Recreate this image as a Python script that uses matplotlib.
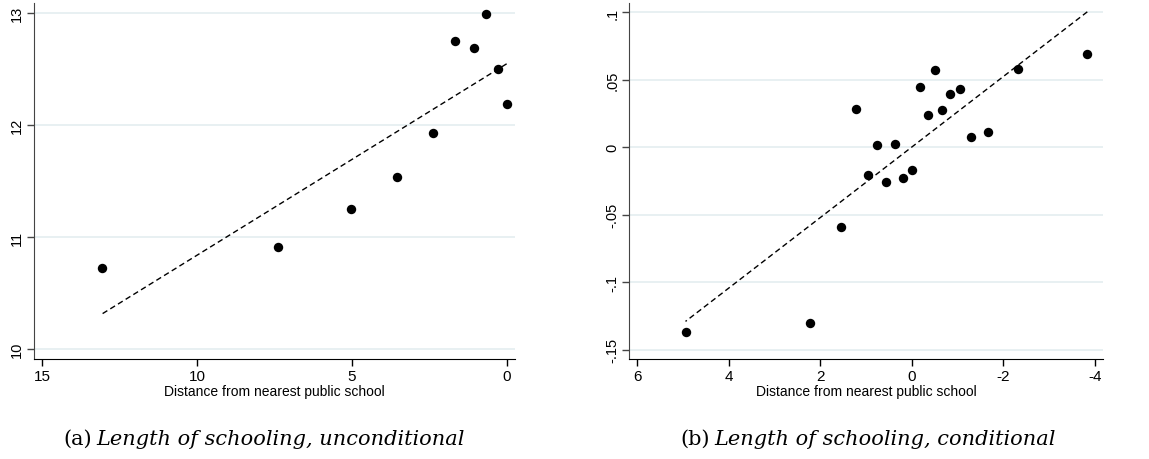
import numpy as np
import matplotlib
matplotlib.use('Agg')
from matplotlib import pyplot as plt

# binned scatter values
dist_uncond = [13.06, 7.38, 5.02, 3.53, 2.39, 1.66, 1.07, 0.68, 0.27, 0.0]
school_uncond = [10.727, 10.912, 11.251, 11.534, 11.928, 12.747, 12.69, 12.991, 12.497, 12.19]

dist_cond = [4.945, 2.232, 1.539, 1.225, 0.955, 0.751, 0.554, 0.357, 0.182, -0.015,
             -0.175, -0.357, -0.518, -0.671, -0.832, -1.05, -1.298, -1.656, -2.319, -3.837]
school_cond = [-0.1372, -0.1302, -0.0593, 0.0285, -0.0203, 0.002, -0.026, 0.0025, -0.0228, -0.0171,
               0.0444, 0.0243, 0.0575, 0.028, 0.0392, 0.0429, 0.0079, 0.0112, 0.0578, 0.0694]

xticks_a = [15, 10, 5, 0]
yticks_a = [10, 11, 12, 13]
xticks_b = [6, 4, 2, 0, -2, -4]
yticks_b = [-0.15, -0.1, -0.05, 0, 0.05, 0.1]
ylabels_b = ['-.15', '-.1', '-.05', '0', '.05', '.1']

xlabel = 'Distance from nearest public school'
captions = [('(a)', 'Length of schooling, unconditional'),
            ('(b)', 'Length of schooling, conditional')]

plt.rcParams['font.family'] = ['Liberation Sans', 'DejaVu Sans']

fig = plt.figure(figsize=(11.49, 4.6), dpi=100)
W, H = 1149.0, 460.0
ax1 = fig.add_axes([34 / W, 100 / H, 481 / W, 356 / H])
ax2 = fig.add_axes([629 / W, 100 / H, 474 / W, 356 / H])


def draw_panel(ax, x, y, xticks, yticks, ylabels, xlim, ylim):
    x = np.array(x)
    y = np.array(y)
    for yt in yticks:
        ax.axhline(yt, color='#e4edf0', lw=1.2, zorder=0)
    ax.scatter(x, y, s=46, color='black', zorder=3, linewidths=0)
    # linear fit across the range of the bins
    slope, icpt = np.polyfit(x, y, 1)
    xs = np.array([x.min(), x.max()])
    ax.plot(xs, icpt + slope * xs, color='black', lw=1.0, ls=(0, (4, 2.5)), zorder=2)
    ax.set_xlim(*xlim)
    ax.set_ylim(*ylim)
    ax.set_xticks(xticks)
    ax.set_yticks(yticks)
    ax.set_xticklabels([str(t) for t in xticks], fontsize=11)
    ax.set_yticklabels(ylabels, fontsize=10.5, rotation=90, va='center')
    ax.set_xlabel(xlabel, fontsize=10, labelpad=1)
    ax.spines['top'].set_visible(False)
    ax.spines['right'].set_visible(False)
    ax.spines['left'].set_color('#444444')
    ax.tick_params(length=5, width=1, pad=2)
    ax.tick_params(axis='y', color='#444444')


draw_panel(ax1, dist_uncond, school_uncond, xticks_a, yticks_a,
           [str(t) for t in yticks_a], (15.27, -0.27), (9.913, 13.087))
draw_panel(ax2, dist_cond, school_cond, xticks_b, yticks_b, ylabels_b,
           (6.18, -4.18), (-0.157, 0.107))

# captions below the panels: label upright, title italic
for (tag, title), xsplit in zip(captions, [92, 710]):
    fig.text(xsplit / W, 15 / H, tag, ha='right', va='baseline', fontsize=15,
             family='DejaVu Serif')
    fig.text((xsplit + 4) / W, 15 / H, title, ha='left', va='baseline', fontsize=15,
             family='DejaVu Serif', style='italic')

fig.savefig('out.png', dpi=100)
